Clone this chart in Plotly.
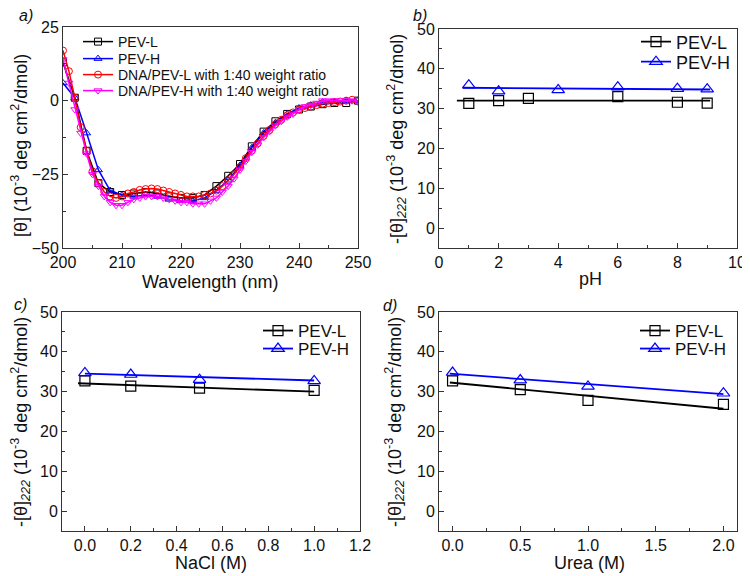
import plotly.graph_objects as go

# ---------------- data ----------------
# Panel a: CD spectra
wl_2nm = list(range(200, 251, 2))
wl_1nm = list(range(200, 251, 1))
pevl_cd = [13, 1, -17, -28, -31, -32, -31.5, -31, -31.5, -32.5, -33, -33, -32,
           -29, -25.5, -21.5, -15.5, -10.5, -7, -4.5, -3, -2, -1.2, -0.8, -0.8, 0]
pevh_cd = [6, 1, -11, -23.5, -30.5, -32, -32.5, -32, -32.5, -33.5, -34, -34, -33,
           -30.5, -27, -22, -16, -11, -7.5, -4.5, -2.5, -1.5, -0.5, -0.3, 0, 0]
dna_pevl_cd = [17, 10, 1, -9, -17, -24, -28, -31, -32.5, -33, -32.5, -31.5, -31,
               -30.3, -30, -29.8, -30, -30.5, -31, -31.5, -32, -32.5, -32.5, -32.5,
               -32, -31.5, -30.5, -29, -27, -25, -22.5, -19.5, -17, -14.5, -12, -10,
               -8, -6.5, -5, -4, -3, -2.5, -2, -1.5, -1, -0.8, -0.5, -0.3, 0, 0.3, 0]
dna_pevh_cd = [14, 6, -3, -11, -18, -25, -29, -32.5, -34.5, -35.5, -35.5, -34.5,
               -33.5, -33, -32.5, -32.5, -32.5, -33, -33.5, -34, -34.5, -34.5, -35,
               -35, -35, -34, -33, -31, -29, -26.5, -23.5, -20.5, -17.5, -15, -12.5,
               -10.5, -8.5, -7, -5.5, -4.5, -3, -2, -1.5, -0.8, 0, 0, 0, 0, 0, 0, -0.5]

# Panel b: pH
ph_l = [1, 2, 3, 6, 8, 9]
ph_l_val = [31.3, 32.0, 32.6, 33.0, 31.6, 31.4]
ph_h = [1, 2, 4, 6, 8, 9]
ph_h_val = [35.9, 34.4, 34.7, 35.4, 35.0, 34.9]
ph_fit_l_x = [0.6, 9.1]
ph_fit_l_y = [32.0, 32.0]
ph_fit_h_x = [0.8, 9.1]
ph_fit_h_y = [35.25, 34.8]

# Panel c: NaCl
nacl = [0.0, 0.2, 0.5, 1.0]
nacl_l_val = [32.7, 31.4, 30.9, 30.3]
nacl_h_val = [34.7, 34.3, 33.0, 32.7]
nacl_fit_l_x = [-0.03, 1.0]
nacl_fit_l_y = [32.1, 30.0]
nacl_fit_h_x = [0.0, 1.0]
nacl_fit_h_y = [34.5, 32.8]

# Panel d: Urea
urea = [0.0, 0.5, 1.0, 2.0]
urea_l_val = [32.7, 30.5, 27.8, 26.8]
urea_h_val = [34.8, 32.9, 31.3, 29.6]
urea_fit_l_x = [-0.02, 2.0]
urea_fit_l_y = [32.3, 25.7]
urea_fit_h_x = [-0.02, 2.0]
urea_fit_h_y = [34.5, 29.4]

FONT = "Arial, Liberation Sans, sans-serif"
BLACK, BLUE, RED, MAG = "#000000", "#0000ff", "#ff0000", "#ff00ff"

# page body has an 8px margin: lay out in screen pixels and convert
OFF = 8
W, H = 742, 568
def px(X):
    return (X - OFF) / W
def py(Y):
    return 1 - (Y - OFF) / H
def dx(a, b):
    return [px(a), px(b)]
def dy(top, bot):
    return [py(bot), py(top)]

fig = go.Figure()

# ---- panel a ----
def spec(x, y, name, color, symbol, leg):
    fig.add_trace(go.Scatter(
        x=x, y=y, name=name, mode="lines+markers", xaxis="x", yaxis="y",
        line=dict(color=color, width=1.5),
        marker=dict(symbol=symbol, size=7, color=color, line=dict(color=color, width=1)),
        legend=leg))

spec(wl_2nm, pevl_cd, "PEV-L", BLACK, "square-open", "legend")
spec(wl_2nm, pevh_cd, "PEV-H", BLUE, "triangle-up-open", "legend5")
spec(wl_1nm, dna_pevl_cd, "DNA/PEV-L with 1:40 weight ratio", RED, "circle-open", "legend6")
spec(wl_1nm, dna_pevh_cd, "DNA/PEV-H with 1:40 weight ratio", MAG, "triangle-down-open", "legend7")

# ---- panels b, c, d ----
def panel(xa, ya, legL, legH, xl, yl, xh, yh, fxl, fyl, fxh, fyh):
    fig.add_trace(go.Scatter(x=fxl, y=fyl, mode="lines", xaxis=xa, yaxis=ya,
                             line=dict(color=BLACK, width=1.8), showlegend=False,
                             hoverinfo="skip"))
    fig.add_trace(go.Scatter(x=fxh, y=fyh, mode="lines", xaxis=xa, yaxis=ya,
                             line=dict(color=BLUE, width=1.8), showlegend=False,
                             hoverinfo="skip"))
    fig.add_trace(go.Scatter(x=xl, y=yl, name="PEV-L", mode="markers", xaxis=xa, yaxis=ya,
                             marker=dict(symbol="square-open", size=10, color=BLACK,
                                         line=dict(color=BLACK, width=1.2)),
                             showlegend=False))
    fig.add_trace(go.Scatter(x=xh, y=yh, name="PEV-H", mode="markers", xaxis=xa, yaxis=ya,
                             marker=dict(symbol="triangle-up-open", size=11, color=BLUE,
                                         line=dict(color=BLUE, width=1.2)),
                             showlegend=False))
    # legend entries
    fig.add_trace(go.Scatter(x=[None], y=[None], name="PEV-L", mode="lines+markers",
                             xaxis=xa, yaxis=ya, legend=legL,
                             line=dict(color=BLACK, width=1.8),
                             marker=dict(symbol="square-open", size=10, color=BLACK,
                                         line=dict(color=BLACK, width=1.2))))
    fig.add_trace(go.Scatter(x=[None], y=[None], name="PEV-H", mode="lines+markers",
                             xaxis=xa, yaxis=ya, legend=legH,
                             line=dict(color=BLUE, width=1.8),
                             marker=dict(symbol="triangle-up-open", size=11, color=BLUE,
                                         line=dict(color=BLUE, width=1.2))))

panel("x2", "y2", "legend2", "legend8", ph_l, ph_l_val, ph_h, ph_h_val,
      ph_fit_l_x, ph_fit_l_y, ph_fit_h_x, ph_fit_h_y)
panel("x3", "y3", "legend3", "legend9", nacl, nacl_l_val, nacl, nacl_h_val,
      nacl_fit_l_x, nacl_fit_l_y, nacl_fit_h_x, nacl_fit_h_y)
panel("x4", "y4", "legend4", "legend10", urea, urea_l_val, urea, urea_h_val,
      urea_fit_l_x, urea_fit_l_y, urea_fit_h_x, urea_fit_h_y)

def axis(domain, anchor, rng, dtick, minor_dtick, tickformat=None, tick0=None):
    d = dict(domain=domain, anchor=anchor, range=rng, dtick=dtick, automargin=False,
             showline=True, linecolor="#333", linewidth=1, mirror=True,
             ticks="inside", ticklen=5, tickcolor="#333", tickwidth=1,
             showgrid=False, zeroline=False,
             tickfont=dict(family=FONT, size=16, color="#111"),
             minor=dict(ticks="inside", ticklen=3, dtick=minor_dtick, tickcolor="#333",
                        showgrid=False))
    if tickformat:
        d["tickformat"] = tickformat
    if tick0 is not None:
        d["tick0"] = tick0
    return d

def leg(X, Y, size):
    return dict(x=px(X), y=py(Y), xanchor="left", yanchor="middle",
                bgcolor="rgba(0,0,0,0)", font=dict(family=FONT, size=size, color="#111"),
                itemwidth=30, borderwidth=0)

fig.update_layout(
    width=W, height=H, margin=dict(l=0, r=0, t=0, b=0, autoexpand=False),
    paper_bgcolor="white", plot_bgcolor="white",
    font=dict(family=FONT, color="#111"),
    xaxis=axis(dx(63, 358), "y", [200, 250], 10, 5),
    yaxis=axis(dy(27, 248), "x", [-50, 25], 25, 12.5, tick0=0),
    xaxis2=axis(dx(439, 737), "y2", [0, 10], 2, 1),
    yaxis2=axis(dy(29, 248), "x2", [-5, 50], 10, 5, tick0=0),
    xaxis3=axis(dx(62, 360), "y3", [-0.1, 1.2], 0.2, 0.1, tickformat=".1f", tick0=0),
    yaxis3=axis(dy(312, 531), "x3", [-5, 50], 10, 5, tick0=0),
    xaxis4=axis(dx(439, 737), "y4", [-0.1, 2.1], 0.5, 0.25, tickformat=".1f", tick0=0),
    yaxis4=axis(dy(312, 531), "x4", [-5, 50], 10, 5, tick0=0),
    legend=leg(78, 42, 14),
    legend5=leg(78, 59, 14),
    legend6=leg(78, 75, 14),
    legend7=leg(78, 91, 14),
    legend2=leg(636, 42, 18),
    legend8=leg(636, 62, 18),
    legend3=leg(258, 331, 17),
    legend9=leg(258, 349, 17),
    legend4=leg(635, 331, 17),
    legend10=leg(635, 349, 17),
)

ytitle_a = "[θ] (10<sup>-3</sup> deg cm<sup>2</sup>/dmol)"
ytitle = "-[θ]<sub><i>222</i></sub> (10<sup>-3</sup> deg cm<sup>2</sup>/dmol)"
TF = dict(family=FONT, size=18, color="#111")
LF = dict(family=FONT, size=16, color="#111")
ann = [
    dict(text="Wavelength (nm)", x=px(210), y=py(282), font=TF),
    dict(text="pH", x=px(590), y=py(279), font=TF),
    dict(text="NaCl (M)", x=px(211), y=py(563), font=TF),
    dict(text="Urea (M)", x=px(589), y=py(563), font=TF),
    dict(text=ytitle_a, x=px(19), y=py(146), textangle=-90, font=TF),
    dict(text=ytitle, x=px(397), y=py(139), textangle=-90, font=TF),
    dict(text=ytitle, x=px(20), y=py(422), textangle=-90, font=TF),
    dict(text=ytitle, x=px(394), y=py(422), textangle=-90, font=TF),
    dict(text="<i>a)</i>", x=px(26), y=py(16), font=LF),
    dict(text="<i>b)</i>", x=px(420), y=py(16), font=LF),
    dict(text="<i>c)</i>", x=px(20), y=py(304), font=LF),
    dict(text="<i>d)</i>", x=px(390), y=py(305), font=LF),
]
for a in ann:
    a.update(xref="paper", yref="paper", showarrow=False,
             xanchor="center", yanchor="middle")
    fig.add_annotation(**a)

fig.write_html("out.html")
